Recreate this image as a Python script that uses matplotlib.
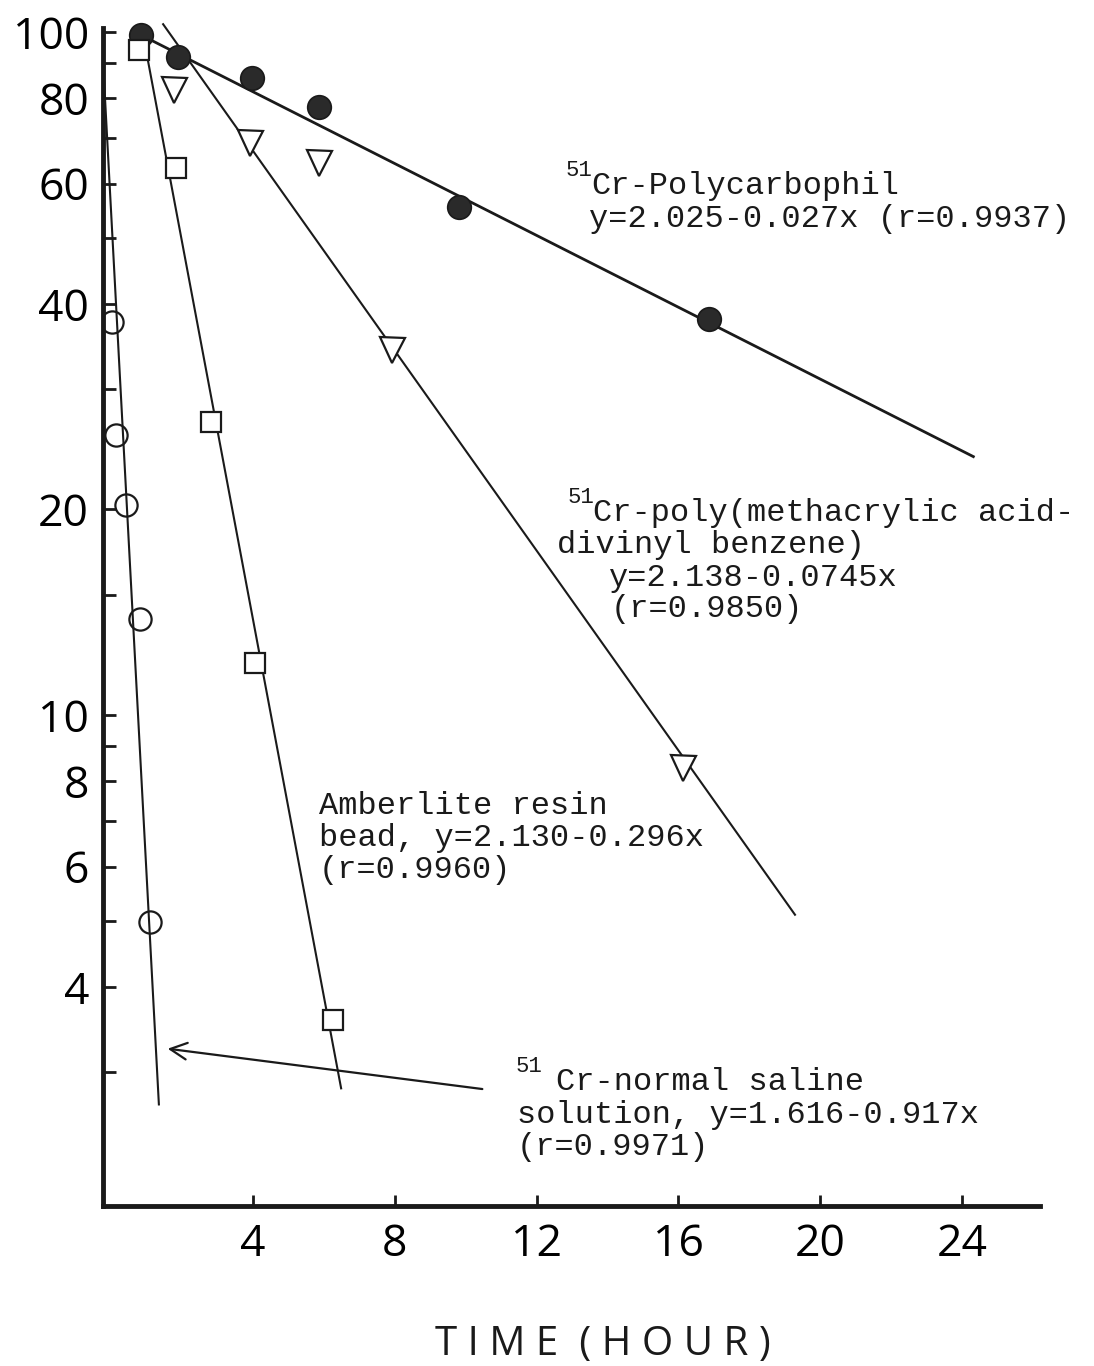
import numpy as np
import matplotlib
matplotlib.use("Agg")
import matplotlib.pyplot as plt
from matplotlib.ticker import FixedLocator, NullFormatter

# --- data (time in hours, % remaining) ---
poly_x = [0.85, 1.89, 3.98, 5.87, 9.82, 16.87]
poly_y = [99.0, 91.9, 85.7, 77.6, 55.4, 38.0]
poly_line_x = [0.85, 24.32]
poly_line_y = [99.0, 23.9]

pmaa_x = [1.78, 3.92, 5.87, 7.93, 16.14]
pmaa_y = [82.2, 68.8, 64.3, 34.2, 8.36]
pmaa_line_x = [1.47, 19.29]
pmaa_line_y = [102.7, 5.10]

amb_x = [0.79, 1.83, 2.82, 4.06, 6.26]
amb_y = [94.1, 63.2, 26.9, 11.9, 3.58]
amb_line_x = [0.96, 6.49]
amb_line_y = [95.7, 2.84]

sal_x = [0.03, 0.14, 0.42, 0.82, 1.10]
sal_y = [37.6, 25.7, 20.3, 13.8, 4.98]
sal_line_x = [-0.23, 1.35]
sal_line_y = [91.6, 2.69]

xticks = [4, 8, 12, 16, 20, 24]
yticks_major = [4, 6, 8, 10, 20, 40, 60, 80, 100]
yticks_minor = [3, 5, 7, 9, 15, 30, 50, 70, 90]

W, H = 1094, 1366
fig = plt.figure(figsize=(W / 100, H / 100), dpi=100)
ax = fig.add_axes([103 / W, 1 - 1206 / H, (1040 - 103) / W, (1206 - 28) / H])
ax.set_yscale("log")
ax.set_xlim(-0.226, 26.2)
ax.set_ylim(1.91, 101.4)

ink = "#1a1a1a"

# fitted lines
ax.plot(poly_line_x, poly_line_y, color=ink, lw=2.0, zorder=2, clip_on=False)
ax.plot(pmaa_line_x, pmaa_line_y, color=ink, lw=1.5, zorder=2, clip_on=False)
ax.plot(amb_line_x, amb_line_y, color=ink, lw=1.5, zorder=2)
ax.plot(sal_line_x, sal_line_y, color=ink, lw=1.5, zorder=2)

# points
ax.plot(poly_x, poly_y, "o", ms=17, mfc="#2a2a2a", mec=ink, mew=1.2, ls="none", zorder=3, clip_on=False)
ax.plot(pmaa_x, pmaa_y, "v", ms=18, mfc="white", mec=ink, mew=1.6, ls="none", zorder=3)
ax.plot(amb_x, amb_y, "s", ms=14, mfc="white", mec=ink, mew=1.6, ls="none", zorder=3)
ax.plot(sal_x, sal_y, "o", ms=16, mfc="none", mec=ink, mew=1.6, ls="none", zorder=3)

# arrow pointing at saline line
ax.annotate("", xy=(1.52, 3.25), xytext=(10.55, 2.83),
            arrowprops=dict(arrowstyle="->", color=ink, lw=1.6, mutation_scale=30))

# axes styling
for s in ["top", "right"]:
    ax.spines[s].set_visible(False)
ax.spines["left"].set_linewidth(3.5)
ax.spines["bottom"].set_linewidth(3.5)
ax.spines["left"].set_color(ink)
ax.spines["bottom"].set_color(ink)

tickfont = dict(family="Open Sans", weight="normal", size=32)
ax.set_xticks(xticks)
ax.set_xticklabels([str(t) for t in xticks], **tickfont)
ax.yaxis.set_major_locator(FixedLocator(yticks_major))
ax.yaxis.set_minor_locator(FixedLocator(yticks_minor))
ax.yaxis.set_minor_formatter(NullFormatter())
ax.set_yticklabels([str(t) for t in yticks_major], **tickfont)
ax.tick_params(axis="both", which="both", direction="in", color=ink, width=2)
ax.tick_params(axis="y", which="both", length=9, pad=10)
ax.tick_params(axis="x", which="major", length=8, pad=12)

fig.text(603 / W, 1 - 1345 / H, "T I M E  ( H O U R )", ha="center", va="center",
         family="Open Sans", weight="normal", size=29, color=ink)

mono = dict(family="Liberation Mono", size=23, color=ink, va="center", ha="left")
sup = dict(family="Liberation Mono", size=16, color=ink, va="center", ha="left")


def put(px, py, s, **kw):
    fig.text(px / W, 1 - py / H, s, **kw)


# Polycarbophil label
put(566, 170, "51", **sup)
put(591, 186, "Cr-Polycarbophil", **mono)
put(589, 219, "y=2.025-0.027x (r=0.9937)", **mono)

# poly(methacrylic acid-divinyl benzene) label
put(568, 498, "51", **sup)
put(593, 513, "Cr-poly(methacrylic acid-", **mono)
put(557, 545, "divinyl benzene)", **mono)
put(609, 578, "y=2.138-0.0745x", **mono)
put(611, 609, "(r=0.9850)", **mono)

# Amberlite label
put(319, 806, "Amberlite resin", **mono)
put(319, 838, "bead, y=2.130-0.296x", **mono)
put(319, 870, "(r=0.9960)", **mono)

# saline label
put(516, 1066, "51", **sup)
put(556, 1082, "Cr-normal saline", **mono)
put(517, 1115, "solution, y=1.616-0.917x", **mono)
put(517, 1147, "(r=0.9971)", **mono)

fig.savefig("out.png", dpi=100, facecolor="white")
